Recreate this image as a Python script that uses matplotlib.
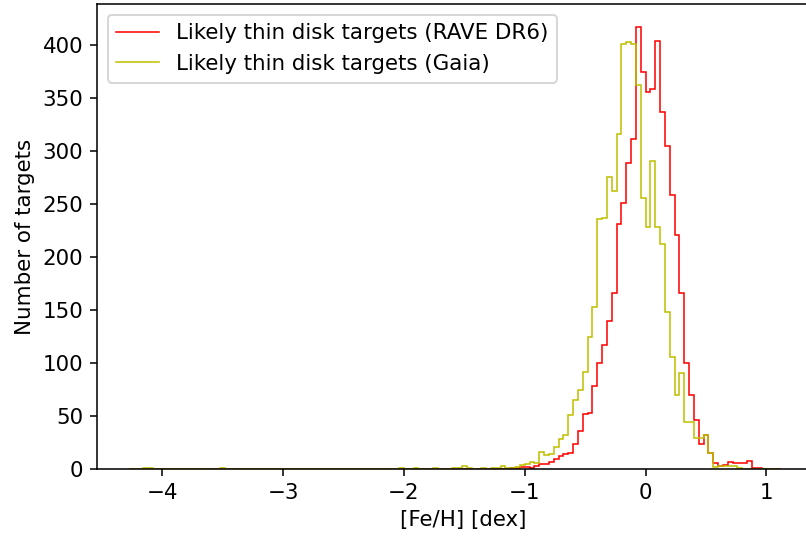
import numpy as np
import matplotlib
matplotlib.use("Agg")
import matplotlib.pyplot as plt
from matplotlib.lines import Line2D

plt.rcParams['font.size'] = 11

# bins of 0.04 dex
bin_width = 0.04
bin_lo, bin_hi = -4.28, 1.12

# RAVE DR6 counts, one per bin starting at [Fe/H] = -1.12
rave_start = -1.12
rave_counts = [1, 1, 2, 2, 1, 3, 5, 5, 7, 9, 12, 14, 15, 24, 36, 52, 53, 78,
               100, 117, 140, 166, 231, 251, 289, 312, 417, 375, 356, 359, 404,
               337, 305, 259, 221, 166, 100, 70, 46, 24, 32, 15, 6, 3, 4, 7, 6,
               6, 6, 8, 1, 1]

# Gaia counts, one per bin starting at [Fe/H] = -1.28
gaia_start = -1.28
gaia_counts = [1, 1, 3, 1, 1, 2, 4, 5, 7, 6, 16, 13, 14, 21, 28, 32, 51, 65,
               75, 92, 125, 153, 236, 237, 276, 262, 316, 401, 403, 401, 363,
               256, 228, 291, 228, 212, 148, 106, 70, 91, 44, 44, 29, 29, 32,
               15, 2, 3, 3, 3, 3, 1]

# isolated metal-poor Gaia targets (bin centre, count)
gaia_tail_feh = [-4.14, -4.10, -3.50, -2.02, -1.90, -1.74, -1.58, -1.54, -1.50, -1.46, -1.34]
gaia_tail_n = [1, 1, 1, 1, 1, 1, 1, 1, 3, 1, 1]

labels = ['Likely thin disk targets (RAVE DR6)', 'Likely thin disk targets (Gaia)']
colors = ['red', 'y']

edges = np.round(np.arange(bin_lo, bin_hi + bin_width / 2, bin_width), 2)


def centres(start, n):
    return np.round(start + bin_width * (np.arange(n) + 0.5), 3)


rave_x = centres(rave_start, len(rave_counts))
gaia_x = np.concatenate([gaia_tail_feh, centres(gaia_start, len(gaia_counts))])
gaia_w = np.concatenate([gaia_tail_n, gaia_counts])

fig = plt.figure(figsize=(806 / 140, 543 / 140), dpi=140)
ax = fig.add_axes([97 / 806, 74 / 543, 733 / 806, 465 / 543])

ax.hist(rave_x, bins=edges, weights=rave_counts, histtype='step',
        color=colors[0], lw=0.8)
ax.hist(gaia_x, bins=edges, weights=gaia_w, histtype='step',
        color=colors[1], lw=0.8)

ax.set_xlim(-4.541, 1.526)
ax.set_ylim(0, 439)
ax.set_xticks([-4, -3, -2, -1, 0, 1])
ax.set_xlabel('[Fe/H] [dex]')
ax.set_ylabel('Number of targets')

handles = [Line2D([], [], color=c, lw=0.8) for c in colors]
ax.legend(handles, labels, loc='upper left')

fig.savefig('out.png', dpi=140)
